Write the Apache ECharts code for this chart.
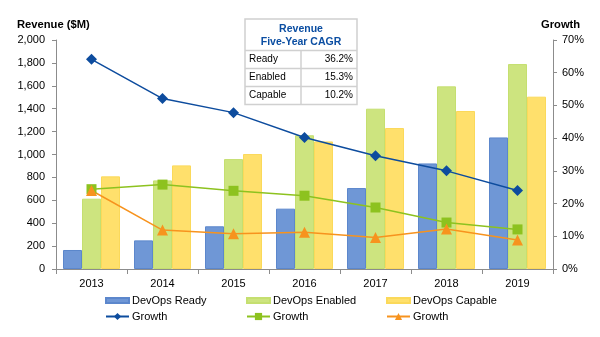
<!DOCTYPE html>
<html><head><meta charset="utf-8">
<script src="https://cdn.jsdelivr.net/npm/echarts@6/dist/echarts.min.js"></script>
<style>html,body{margin:0;padding:0;background:#fff}#c{width:600px;height:337px}</style>
</head><body><div id="c"></div>
<script>
var years = ['2013','2014','2015','2016','2017','2018','2019'];
var readyRev = [166, 250, 373, 527, 707, 922, 1149];
var enabledRev = [614, 774, 960, 1168, 1400, 1595, 1790];
var capableRev = [809, 905, 1004, 1114, 1231, 1380, 1505];
var readyGrowth = [64.1, 52.1, 47.8, 40.2, 34.6, 30.0, 24.0];
var enabledGrowth = [24.4, 25.8, 23.9, 22.4, 18.8, 14.2, 12.1];
var capableGrowth = [24.0, 11.9, 10.8, 11.2, 9.6, 12.2, 8.9];
var cagrLabels = ['Ready', 'Enabled', 'Capable'];
var cagrValues = ['36.2%', '15.3%', '10.2%'];

var FONT = '"Liberation Sans", Arial, sans-serif';
var chart = echarts.init(document.getElementById('c'));

var axisLine = {show: true, lineStyle: {color: '#8c8c8c', width: 1}};
var axisTick = {show: true, length: 4, lineStyle: {color: '#8c8c8c'}};
var lbl = {color: '#000', fontSize: 11, fontFamily: FONT};

var Z = '\u200b';
function legend(left, top, name, isBar) {
  return {
    orient: 'horizontal', left: left, top: top, padding: 0, itemGap: 0,
    itemWidth: 23, itemHeight: isBar ? 5 : 9,
    data: [isBar ? {name: name, icon: 'rect'} : {name: name}],
    textStyle: {color: '#000', fontSize: 11, fontFamily: FONT, padding: [0, 0, 0, -2]},
    formatter: function (n) { return n.replace(/\u200b/g, ''); }
  };
}

// Table graphics
var tX = 245, tW = 112, tY = 19, hH = 31.5, rH = 18, divX = 301;
var g = [];
g.push({type: 'rect', shape: {x: tX, y: tY, width: tW, height: hH + rH * 3},
  style: {fill: '#fff', stroke: '#d0d0d0', lineWidth: 1.5}, z: 100});
g.push({type: 'text', style: {x: tX + tW / 2, y: 29.5, text: 'Revenue', align: 'center', verticalAlign: 'middle',
  font: 'bold 10.5px ' + FONT, fill: '#0b4ea2'}, z: 101});
g.push({type: 'text', style: {x: tX + tW / 2, y: 42, text: 'Five-Year CAGR', align: 'center', verticalAlign: 'middle',
  font: 'bold 10.5px ' + FONT, fill: '#0b4ea2'}, z: 101});
for (var i = 0; i < 3; i++) {
  var yy = tY + hH + rH * i;
  g.push({type: 'line', shape: {x1: tX, y1: yy, x2: tX + tW, y2: yy}, style: {stroke: '#d0d0d0', lineWidth: 1.5}, z: 101});
  g.push({type: 'text', style: {x: tX + 4, y: yy + rH / 2, text: cagrLabels[i], verticalAlign: 'middle',
    font: '10px ' + FONT, fill: '#000'}, z: 101});
  g.push({type: 'text', style: {x: tX + tW - 4, y: yy + rH / 2, text: cagrValues[i], align: 'right', verticalAlign: 'middle',
    font: '10px ' + FONT, fill: '#000'}, z: 101});
}
g.push({type: 'line', shape: {x1: divX, y1: tY + hH, x2: divX, y2: tY + hH + rH * 3}, style: {stroke: '#d0d0d0', lineWidth: 1.5}, z: 101});
g.push({type: 'text', style: {x: 17, y: 24.5, text: 'Revenue ($M)', verticalAlign: 'middle', font: 'bold 11.2px ' + FONT, fill: '#000'}});
g.push({type: 'text', style: {x: 541, y: 24.5, text: 'Growth', verticalAlign: 'middle', font: 'bold 11.2px ' + FONT, fill: '#000'}});

chart.setOption({
  animation: false,
  textStyle: {fontFamily: FONT},
  grid: {left: 56, right: 47, top: 40, bottom: 68},
  legend: [
    legend(105, 295, 'DevOps Ready', true),
    legend(246, 295, 'DevOps Enabled', true),
    legend(386, 295, 'DevOps Capable', true),
    legend(105, 311, 'Growth', false),
    legend(246, 311, 'Growth' + Z, false),
    legend(386, 311, 'Growth' + Z + Z, false)
  ],
  xAxis: {
    type: 'category', data: years,
    axisLine: axisLine, axisTick: {show: true, length: 5, lineStyle: {color: '#8c8c8c'}},
    axisLabel: Object.assign({margin: 9}, lbl)
  },
  yAxis: [
    {type: 'value', min: 0, max: 2000, interval: 200, splitLine: {show: false},
      axisLine: axisLine, axisTick: axisTick,
      axisLabel: Object.assign({margin: 11, formatter: function (v) { return v.toLocaleString('en-US'); }}, lbl)},
    {type: 'value', min: 0, max: 70, interval: 10, splitLine: {show: false},
      axisLine: axisLine, axisTick: axisTick,
      axisLabel: Object.assign({margin: 9, formatter: '{value}%'}, lbl)}
  ],
  series: [
    {name: 'DevOps Ready', type: 'bar', data: readyRev, barWidth: 19, barGap: '0%',
      itemStyle: {color: '#6f97d6', borderColor: '#5c87cc', borderWidth: 1}},
    {name: 'DevOps Enabled', type: 'bar', data: enabledRev, barWidth: 19, barGap: '0%',
      itemStyle: {color: '#cde47f', borderColor: '#c5df70', borderWidth: 1}},
    {name: 'DevOps Capable', type: 'bar', data: capableRev, barWidth: 19, barGap: '0%',
      itemStyle: {color: '#ffe06c', borderColor: '#fbd95a', borderWidth: 1}},
    {name: 'Growth', type: 'line', yAxisIndex: 1, data: readyGrowth, symbol: 'diamond', symbolSize: 11,
      lineStyle: {color: '#0d4c9e', width: 1.5}, itemStyle: {color: '#0d4c9e'}, z: 5},
    {name: 'Growth' + Z, type: 'line', yAxisIndex: 1, data: enabledGrowth, symbol: 'rect', symbolSize: 10,
      lineStyle: {color: '#8dc21f', width: 1.5}, itemStyle: {color: '#8dc21f'}, z: 5},
    {name: 'Growth' + Z + Z, type: 'line', yAxisIndex: 1, data: capableGrowth, symbol: 'triangle', symbolSize: 11,
      lineStyle: {color: '#f7931e', width: 1.5}, itemStyle: {color: '#f7931e'}, z: 5}
  ],
  graphic: g
});
</script>
</body></html>
